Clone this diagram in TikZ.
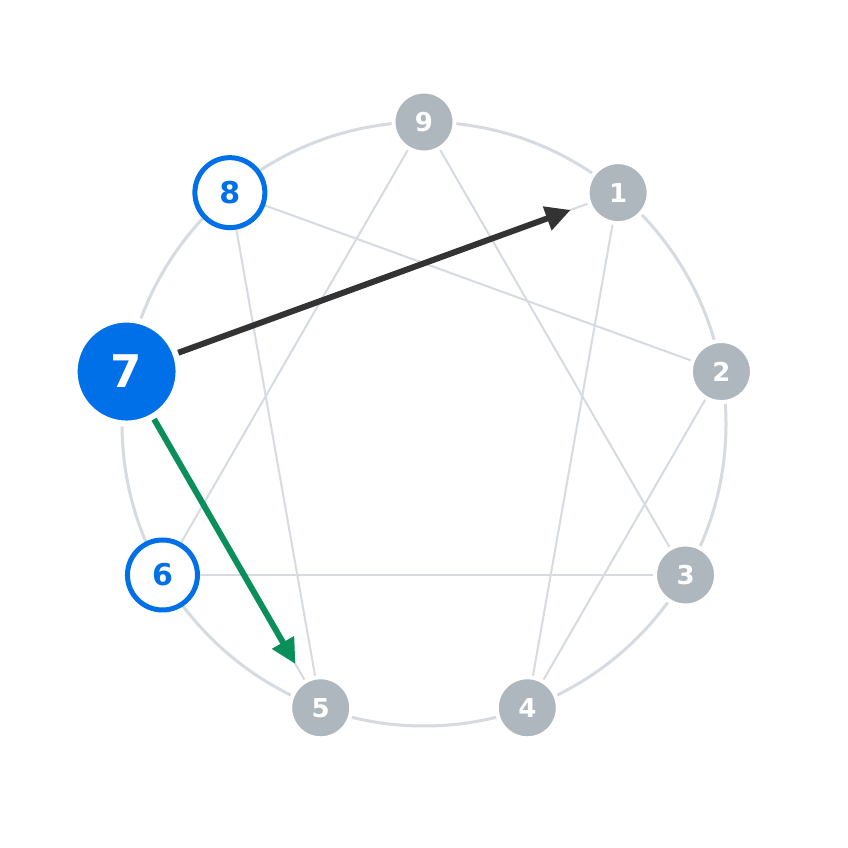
\documentclass[tikz,border=0pt]{standalone}
\usepackage{fontspec}
\setmainfont{DejaVu Sans}
\usetikzlibrary{arrows.meta,backgrounds,calc}
\definecolor{ringc}{HTML}{D5DBE0}
\definecolor{gnode}{HTML}{AEB6BE}
\definecolor{bluec}{HTML}{0070E8}
\definecolor{greenc}{HTML}{0B8F5A}
\definecolor{darkc}{HTML}{333333}
\begin{document}
\begin{tikzpicture}[x=1pt,y=1pt,
  gnodestyle/.style={circle, fill=gnode, draw=white, line width=4pt, minimum size=61pt, inner sep=0pt, outer sep=0pt, text=white, font=\fontsize{26}{26}\selectfont\bfseries},
  bnodestyle/.style={circle, fill=white, draw=bluec, line width=5pt, minimum size=70pt, inner sep=0pt, outer sep=0pt, text=bluec, font=\fontsize{30}{30}\selectfont\bfseries},
  mainnode/.style={circle, fill=bluec, draw=white, line width=6pt, minimum size=104pt, inner sep=0pt, outer sep=0pt, text=white, font=\fontsize{45}{45}\selectfont\bfseries},
  link/.style={draw=ringc, line width=2pt},
  outerring/.style={draw=ringc, line width=3pt},
  arr/.style={line width=6pt, -{Triangle[length=25pt,width=24pt]}, shorten <=3pt, shorten >=20pt}
]
\useasboundingbox (0,0) rectangle (848,848);
\coordinate (c) at (424,424);
\node[gnodestyle] (n9) at ($(c)+(90:302)$) {9};
\node[gnodestyle] (n1) at ($(c)+(50:302)$) {1};
\node[gnodestyle] (n2) at ($(c)+(10:302)$) {2};
\node[gnodestyle] (n3) at ($(c)+(-30:302)$) {3};
\node[gnodestyle] (n4) at ($(c)+(-70:302)$) {4};
\node[gnodestyle] (n5) at ($(c)+(-110:302)$) {5};
\node[bnodestyle] (n6) at ($(c)+(-150:302)$) {6};
\node[mainnode] (n7) at ($(c)+(170:302)$) {7};
\node[bnodestyle] (n8) at ($(c)+(130:302)$) {8};
\begin{scope}[on background layer]
  \fill[white] (0,0) rectangle (848,848);
  \draw[outerring] (c) circle (302);
  \draw[link] (n9.center) -- (n3.center);
  \draw[link] (n3.center) -- (n6.center);
  \draw[link] (n6.center) -- (n9.center);
  \draw[link] (n1.center) -- (n4.center);
  \draw[link] (n4.center) -- (n2.center);
  \draw[link] (n2.center) -- (n8.center);
  \draw[link] (n8.center) -- (n5.center);
  \draw[link] (n5.center) -- (n7.center);
  \draw[link] (n7.center) -- (n1.center);
\end{scope}
\draw[arr, darkc] (n7) -- (n1);
\draw[arr, greenc] (n7) -- (n5);
\end{tikzpicture}
\end{document}
